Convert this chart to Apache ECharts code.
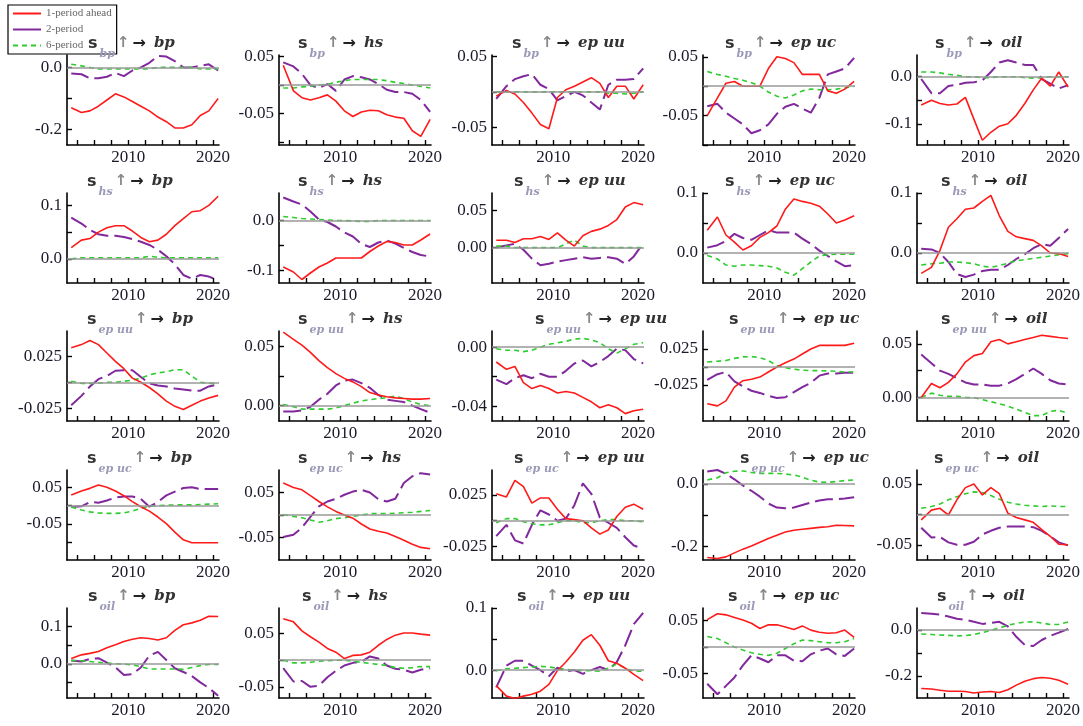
<!DOCTYPE html>
<html>
<head>
<meta charset="utf-8">
<script src="https://cdn.jsdelivr.net/npm/echarts@6/dist/echarts.min.js"></script>
<style>
html, body { margin: 0; background: #fff; }
#main { width: 1083px; height: 726px; }
</style>
</head>
<body>
<div id="main"></div>
<script>
// sample dates (roughly one per year)
var years = [2003.3, 2004.5, 2005.5, 2006.5, 2007.5, 2008.5, 2009.5, 2010.5, 2011.5,
             2012.5, 2013.5, 2014.5, 2015.5, 2016.5, 2017.5, 2018.5, 2019.5, 2020.6];
var xTicks = [2004, 2006, 2008, 2010, 2012, 2014, 2016, 2018, 2020];
var xLabels = [2010, 2020];

// shock (row) and response (column) names
var shocks = ['bp', 'hs', 'ep uu', 'ep uc', 'oil'];
var targets = ['bp', 'hs', 'ep uu', 'ep uc', 'oil'];

// 1-period ahead, one row per panel (row-major: shock, then response)
var red = [
  [-0.13, -0.145, -0.14, -0.125, -0.105, -0.085, -0.095, -0.11, -0.125, -0.14, -0.16, -0.175, -0.195, -0.195, -0.185, -0.155, -0.14, -0.1],
  [0.035, -0.01, -0.022, -0.026, -0.022, -0.017, -0.028, -0.045, -0.055, -0.047, -0.044, -0.045, -0.052, -0.056, -0.058, -0.08, -0.09, -0.06],
  [-0.006, 0.002, -0.003, -0.015, -0.03, -0.046, -0.052, -0.008, 0.003, 0.008, 0.014, 0.02, 0.012, -0.008, 0.008, 0.008, -0.01, 0.01],
  [-0.05, -0.02, 0.005, 0.008, 0.0, 0.0, 0.0, 0.03, 0.05, 0.047, 0.04, 0.02, 0.02, 0.02, -0.008, -0.012, -0.005, 0.008],
  [-0.06, -0.05, -0.057, -0.06, -0.058, -0.044, -0.09, -0.135, -0.118, -0.105, -0.1, -0.082, -0.057, -0.028, -0.003, -0.02, 0.01, -0.022],

  [0.021, 0.035, 0.038, 0.05, 0.058, 0.062, 0.062, 0.052, 0.04, 0.032, 0.035, 0.046, 0.062, 0.075, 0.088, 0.09, 0.1, 0.117],
  [-0.093, -0.103, -0.118, -0.105, -0.093, -0.085, -0.075, -0.075, -0.075, -0.075, -0.062, -0.051, -0.042, -0.044, -0.049, -0.049, -0.039, -0.027],
  [0.01, 0.01, 0.007, 0.012, 0.012, 0.015, 0.011, 0.02, 0.01, 0.002, 0.016, 0.022, 0.025, 0.03, 0.038, 0.055, 0.061, 0.058],
  [0.038, 0.06, 0.03, 0.018, 0.005, 0.012, 0.026, 0.034, 0.045, 0.073, 0.09, 0.086, 0.083, 0.078, 0.065, 0.05, 0.055, 0.062],
  [-0.034, -0.024, 0.004, 0.043, 0.057, 0.073, 0.075, 0.086, 0.096, 0.062, 0.036, 0.027, 0.024, 0.021, 0.012, 0.0, -0.001, -0.006],

  [0.033, 0.036, 0.04, 0.036, 0.028, 0.02, 0.013, 0.004, 0.0, -0.005, -0.011, -0.018, -0.023, -0.026, -0.022, -0.018, -0.015, -0.0125],
  [0.062, 0.056, 0.051, 0.045, 0.038, 0.032, 0.027, 0.023, 0.02, 0.016, 0.011, 0.009, 0.0075, 0.0065, 0.006, 0.0055, 0.0055, 0.006],
  [-0.01, -0.015, -0.013, -0.024, -0.028, -0.026, -0.028, -0.031, -0.03, -0.031, -0.034, -0.037, -0.041, -0.039, -0.041, -0.045, -0.043, -0.042],
  [-0.051, -0.054, -0.047, -0.028, -0.019, -0.017, -0.014, -0.007, 0.0, 0.006, 0.011, 0.018, 0.025, 0.03, 0.03, 0.03, 0.03, 0.033],
  [0.0, 0.013, 0.009, 0.014, 0.022, 0.033, 0.039, 0.041, 0.052, 0.054, 0.05, 0.052, 0.054, 0.056, 0.058, 0.057, 0.056, 0.055],

  [0.029, 0.04, 0.047, 0.056, 0.05, 0.04, 0.027, 0.011, -0.003, -0.015, -0.031, -0.049, -0.072, -0.093, -0.101, -0.101, -0.101, -0.101],
  [0.071, 0.061, 0.056, 0.043, 0.03, 0.018, 0.008, 0.0, -0.007, -0.02, -0.031, -0.036, -0.04, -0.048, -0.056, -0.065, -0.072, -0.075],
  [0.026, 0.023, 0.039, 0.033, 0.017, 0.022, 0.022, 0.011, 0.002, 0.001, 0.0, -0.007, -0.013, -0.009, 0.004, 0.013, 0.016, 0.011],
  [-0.237, -0.24, -0.235, -0.222, -0.21, -0.2, -0.188, -0.176, -0.165, -0.155, -0.149, -0.146, -0.143, -0.14, -0.138, -0.133, -0.134, -0.135],
  [-0.009, 0.007, 0.01, -0.001, 0.024, 0.044, 0.05, 0.032, 0.044, 0.034, 0.002, -0.005, -0.009, -0.013, -0.025, -0.036, -0.049, -0.05],

  [0.014, 0.024, 0.028, 0.033, 0.043, 0.051, 0.06, 0.066, 0.07, 0.068, 0.064, 0.07, 0.09, 0.105, 0.11, 0.117, 0.128, 0.127],
  [0.078, 0.072, 0.055, 0.044, 0.034, 0.022, 0.015, 0.003, 0.009, 0.01, 0.015, 0.028, 0.039, 0.047, 0.051, 0.051, 0.049, 0.047],
  [-0.025, -0.042, -0.046, -0.042, -0.039, -0.034, -0.023, -0.001, 0.013, 0.029, 0.048, 0.057, 0.04, 0.015, 0.011, 0.003, -0.007, -0.017],
  [0.052, 0.063, 0.061, 0.056, 0.051, 0.045, 0.035, 0.042, 0.042, 0.038, 0.033, 0.04, 0.032, 0.028, 0.026, 0.027, 0.032, 0.018],
  [-0.255, -0.257, -0.262, -0.267, -0.267, -0.268, -0.274, -0.27, -0.268, -0.272, -0.26, -0.24, -0.223, -0.212, -0.207, -0.21, -0.219, -0.236]
];

// 2-period
var purple = [
  [-0.02, -0.022, -0.035, -0.035, -0.03, -0.018, -0.028, -0.01, 0.0, 0.015, 0.037, 0.035, 0.02, 0.0, 0.0, 0.005, 0.01, -0.01],
  [0.04, 0.033, 0.02, 0.0, -0.005, 0.002, -0.01, 0.01, 0.016, 0.014, 0.01, 0.002, -0.008, -0.012, -0.012, -0.015, -0.026, -0.047],
  [-0.01, 0.008, 0.018, 0.022, 0.025, 0.01, 0.004, -0.012, -0.006, 0.0, -0.005, -0.015, -0.025, 0.01, 0.017, 0.017, 0.018, 0.033],
  [-0.034, -0.03, -0.045, -0.055, -0.065, -0.08, -0.075, -0.065, -0.047, -0.035, -0.03, -0.038, -0.045, -0.02, 0.02, 0.025, 0.03, 0.048],
  [-0.005, -0.035, -0.035, -0.02, -0.017, -0.013, -0.012, -0.008, 0.01, 0.03, 0.035, 0.03, 0.025, 0.025, -0.005, -0.015, -0.025, -0.018],

  [0.077, 0.066, 0.054, 0.046, 0.043, 0.043, 0.041, 0.037, 0.032, 0.026, 0.017, 0.005, -0.01, -0.03, -0.037, -0.03, -0.033, -0.04],
  [0.046, 0.038, 0.032, 0.018, 0.002, -0.003, -0.012, -0.024, -0.032, -0.047, -0.053, -0.044, -0.04, -0.046, -0.055, -0.063, -0.069, -0.072],
  [0.0, 0.003, 0.005, -0.003, -0.015, -0.024, -0.022, -0.019, -0.017, -0.015, -0.013, -0.015, -0.014, -0.013, -0.015, -0.022, -0.012, 0.006],
  [0.009, 0.013, 0.02, 0.032, 0.025, 0.022, 0.03, 0.038, 0.034, 0.034, 0.034, 0.024, 0.015, 0.004, -0.005, -0.014, -0.022, -0.02],
  [0.007, 0.006, 0.0, -0.015, -0.035, -0.04, -0.036, -0.03, -0.028, -0.028, -0.02, -0.01, -0.002, 0.008, 0.015, 0.012, 0.025, 0.04],

  [-0.022, -0.013, -0.004, 0.003, 0.006, 0.011, 0.0115, 0.0115, 0.005, -0.001, -0.003, -0.004, -0.006, -0.007, -0.008, -0.008, -0.004, -0.002],
  [-0.005, -0.005, -0.004, -0.001, 0.005, 0.01, 0.017, 0.021, 0.022, 0.019, 0.015, 0.009, 0.005, 0.004, 0.003, 0.0, -0.003, -0.006],
  [-0.022, -0.025, -0.021, -0.019, -0.021, -0.018, -0.02, -0.02, -0.016, -0.011, -0.009, -0.013, -0.01, -0.006, -0.001, -0.002, -0.008, -0.011],
  [-0.018, -0.01, -0.007, -0.02, -0.027, -0.033, -0.036, -0.04, -0.043, -0.042, -0.035, -0.028, -0.022, -0.012, -0.009, -0.009, -0.008, -0.008],
  [0.04, 0.032, 0.025, 0.022, 0.018, 0.014, 0.012, 0.012, 0.011, 0.011, 0.013, 0.017, 0.022, 0.027, 0.022, 0.016, 0.013, 0.012],

  [-0.004, -0.002, 0.01, 0.008, 0.014, 0.022, 0.025, 0.025, 0.018, -0.003, 0.01, 0.028, 0.038, 0.048, 0.05, 0.045, 0.045, 0.045],
  [-0.049, -0.044, -0.028, -0.004, 0.019, 0.03, 0.036, 0.045, 0.052, 0.056, 0.05, 0.035, 0.03, 0.036, 0.071, 0.086, 0.093, 0.09],
  [-0.015, -0.004, -0.019, -0.022, -0.004, 0.01, 0.006, 0.0, 0.002, 0.015, 0.036, 0.026, 0.003, -0.002, -0.007, -0.016, -0.024, -0.027],
  [0.04, 0.045, 0.033, 0.015, -0.005, -0.022, -0.041, -0.063, -0.076, -0.078, -0.076, -0.068, -0.06, -0.053, -0.049, -0.049, -0.047, -0.043],
  [-0.022, -0.038, -0.037, -0.046, -0.05, -0.05, -0.045, -0.033, -0.027, -0.022, -0.02, -0.02, -0.02, -0.021, -0.027, -0.036, -0.046, -0.051],

  [0.009, 0.006, 0.013, 0.015, 0.003, -0.009, -0.03, -0.028, -0.01, 0.022, 0.032, 0.01, -0.012, -0.022, -0.033, -0.05, -0.065, -0.086],
  [-0.015, -0.04, -0.039, -0.05, -0.048, -0.032, -0.02, -0.01, -0.005, -0.003, 0.007, 0.003, -0.01, -0.016, -0.018, -0.023, -0.018, -0.015],
  [-0.028, 0.007, 0.015, 0.015, 0.007, 0.0, -0.01, 0.004, -0.002, 0.0, -0.006, 0.0, 0.005, 0.0, 0.013, 0.04, 0.074, 0.092],
  [-0.07, -0.09, -0.074, -0.058, -0.035, -0.016, -0.022, -0.029, -0.016, -0.016, -0.026, -0.027, -0.014, -0.007, -0.003, -0.014, -0.017, -0.003],
  [0.073, 0.07, 0.066, 0.058, 0.048, 0.044, 0.035, 0.026, 0.03, 0.035, 0.015, -0.03, -0.066, -0.07, -0.044, -0.026, -0.012, 0.004]
];

// 6-period
var green = [
  [0.01, 0.005, 0.0, -0.005, -0.005, -0.005, -0.005, -0.005, -0.005, -0.005, 0, 0, 0, 0, 0, -0.005, -0.005, -0.005],
  [-0.005, -0.005, -0.003, -0.002, 0, 0.002, 0.005, 0.008, 0.01, 0.01, 0.01, 0.01, 0.008, 0.005, 0.003, 0, -0.002, -0.005],
  [0, 0, 0, 0, 0, 0, 0, 0, 0, 0, 0, 0, 0, -0.002, -0.002, -0.003, -0.002, 0],
  [0.025, 0.02, 0.017, 0.013, 0.01, 0.006, 0.0, -0.01, -0.017, -0.02, -0.015, -0.008, -0.005, -0.006, -0.006, -0.005, -0.003, 0],
  [0.01, 0.01, 0.008, 0.005, 0.003, 0.0, 0, -0.002, -0.002, 0, 0, 0, -0.002, -0.003, -0.002, 0, 0, 0],

  [0, 0.002, 0.002, 0.002, 0.002, 0.002, 0.002, 0.002, 0.002, 0.005, 0.003, 0.002, 0.002, 0.002, 0.002, 0.002, 0.002, 0.002],
  [0.008, 0.006, 0.004, 0.003, 0.002, 0.001, 0.0, 0.0, -0.001, -0.002, -0.002, 0, 0, 0, 0, 0, 0, 0],
  [0.002, 0.002, 0, 0, 0, 0, 0, 0, 0.005, 0.01, 0.002, 0, 0, 0, 0, 0, 0, 0],
  [-0.004, -0.01, -0.02, -0.022, -0.02, -0.02, -0.021, -0.022, -0.025, -0.032, -0.037, -0.026, -0.015, -0.005, -0.003, -0.002, -0.002, -0.002],
  [-0.02, -0.018, -0.017, -0.015, -0.015, -0.016, -0.018, -0.022, -0.024, -0.021, -0.017, -0.013, -0.011, -0.009, -0.007, -0.005, -0.003, -0.001],

  [0.001, -0.001, -0.001, -0.001, 0, 0, 0.001, 0.002, 0.004, 0.007, 0.009, 0.01, 0.012, 0.012, 0.006, 0.0, -0.001, -0.001],
  [0.001, -0.001, -0.003, -0.003, -0.003, -0.003, -0.002, 0.0, 0.002, 0.004, 0.005, 0.006, 0.0065, 0.008, 0.006, 0.003, 0.001, 0.0],
  [-0.001, -0.002, -0.002, -0.003, -0.002, 0.0, 0.002, 0.003, 0.004, 0.0055, 0.006, 0.005, 0.003, -0.001, -0.004, -0.001, 0.002, 0.003],
  [0.007, 0.008, 0.009, 0.012, 0.014, 0.0145, 0.013, 0.009, 0.002, -0.001, -0.003, -0.0045, -0.005, -0.005, -0.0055, -0.006, -0.007, -0.007],
  [0.0, 0.004, 0.002, 0.001, 0.001, 0.0, 0.0, -0.002, -0.004, -0.006, -0.008, -0.011, -0.014, -0.017, -0.017, -0.013, -0.012, -0.015],

  [-0.004, -0.012, -0.017, -0.02, -0.021, -0.021, -0.02, -0.015, -0.007, -0.002, 0.0, 0.001, 0.002, 0.002, 0.002, 0.003, 0.004, 0.005],
  [0.001, -0.003, -0.006, -0.011, -0.016, -0.013, -0.008, -0.006, -0.003, 0.0, 0.003, 0.003, 0.003, 0.004, 0.005, 0.006, 0.008, 0.01],
  [-0.002, 0.002, 0.002, -0.001, -0.003, -0.004, -0.004, -0.002, 0.0, 0.0, -0.002, -0.002, 0.0, 0.001, 0.001, 0.0, 0.0, -0.001],
  [0.013, 0.02, 0.036, 0.041, 0.042, 0.037, 0.034, 0.034, 0.034, 0.032, 0.029, 0.022, 0.012, 0.006, 0.005, 0.008, 0.011, 0.013],
  [0.01, 0.013, 0.017, 0.024, 0.029, 0.034, 0.037, 0.036, 0.031, 0.025, 0.02, 0.017, 0.015, 0.014, 0.013, 0.014, 0.013, 0.013],

  [0.009, 0.008, 0.006, 0.004, 0.002, 0.0, -0.001, -0.003, -0.008, -0.014, -0.014, -0.014, -0.014, -0.015, -0.01, -0.005, -0.002, -0.002],
  [0.0, -0.005, -0.005, -0.004, -0.002, -0.001, 0.0, 0.0, -0.002, -0.004, -0.006, -0.008, -0.01, -0.014, -0.015, -0.014, -0.012, -0.012],
  [-0.001, 0.002, 0.003, 0.004, 0.005, 0.006, 0.005, 0.003, 0.001, 0.0, -0.001, -0.001, -0.002, 0.003, 0.01, 0.003, -0.002, -0.002],
  [0.02, 0.016, 0.008, 0.0, -0.006, -0.011, -0.014, -0.016, -0.012, -0.003, 0.006, 0.013, 0.012, 0.01, 0.008, 0.008, 0.01, 0.016],
  [-0.018, -0.02, -0.022, -0.024, -0.026, -0.025, -0.02, -0.012, -0.002, 0.008, 0.02, 0.028, 0.034, 0.035, 0.03, 0.023, 0.024, 0.034]
];

// y axis extent, ticks and labelled ticks for each panel
var yMin = [-0.25, -0.105, -0.075, -0.1, -0.145, -0.045, -0.125, -0.048, -0.05, -0.05,
            -0.037, -0.013, -0.05, -0.075, -0.022, -0.148, -0.1, -0.038, -0.245, -0.075,
            -0.092, -0.071, -0.045, -0.097, -0.296];
var yMax = [0.04, 0.053, 0.052, 0.053, 0.046, 0.123, 0.055, 0.074, 0.1, 0.1,
            0.049, 0.063, 0.011, 0.05, 0.062, 0.097, 0.1, 0.049, 0.045, 0.073,
            0.15, 0.098, 0.1, 0.074, 0.095];
var yTicks = [
  [0, -0.1, -0.2], [0.05, 0, -0.05, -0.1], [0.05, 0, -0.05], [0.05, 0, -0.05, -0.1], [0, -0.05, -0.1],
  [0.1, 0.05, 0], [0, -0.05, -0.1], [0.05, 0], [0.1, 0.05, 0], [0.1, 0.05, 0],
  [0.025, 0, -0.025], [0.05, 0.025, 0], [0, -0.02, -0.04], [0.025, 0, -0.025], [0.05, 0.025, 0],
  [0.05, 0, -0.05, -0.1], [0.05, 0, -0.05], [0.025, 0, -0.025], [0, -0.1, -0.2], [0.05, 0, -0.05],
  [0.1, 0.05, 0, -0.05], [0.05, 0, -0.05], [0.1, 0.05, 0], [0.05, 0, -0.05], [0, -0.1, -0.2]
];
var yLabels = [
  [0, -0.2], [0.05, -0.05], [0.05, -0.05], [0.05, -0.05], [0, -0.1],
  [0.1, 0], [0, -0.1], [0.05, 0], [0.1, 0], [0.1, 0],
  [0.025, -0.025], [0.05, 0], [0, -0.04], [0.025, -0.025], [0.05, 0],
  [0.05, -0.05], [0.05, -0.05], [0.025, -0.025], [0, -0.2], [0.05, -0.05],
  [0.1, 0], [0.05, -0.05], [0.1, 0], [0.05, -0.05], [0, -0.2]
];
var yDec = [1, 2, 2, 2, 1, 1, 1, 2, 1, 1, 3, 2, 2, 3, 2, 2, 2, 3, 1, 2, 1, 2, 1, 2, 1];

var myChart = echarts.init(document.getElementById('main'));

var colLeft = [67, 279, 492, 703, 917];
var rowTop = [55, 193, 331, 470, 608];
var W = 152, H = 90;
var numFont = 'Liberation Serif';
// how far each panel title starts from its y axis
var titleShift = [21, 19, 20, 22, 18, 20, 19, 22, 22, 24, 20, 19, 43, 26, 24, 20, 19, 22, 37, 17, 21, 23, 25, 25, 20];

function pairs(arr) {
    return arr.map(function (v, k) { return [years[k], v]; });
}

var grids = [], xAxes = [], yAxes = [], series = [], titles = [];

for (var r = 0; r < 5; r++) {
    for (var c = 0; c < 5; c++) {
        var i = r * 5 + c;
        grids.push({ left: colLeft[c], top: rowTop[r], width: W, height: H });

        xAxes.push({
            type: 'value', gridIndex: i, min: 2002.8, max: 2020.7,
            axisLine: { onZero: false, lineStyle: { color: '#000', width: 1.6 } },
            axisTick: { inside: true, length: 5, customValues: xTicks, lineStyle: { color: '#000', width: 1.4 } },
            axisLabel: {
                customValues: xLabels, margin: 4,
                fontFamily: numFont, fontSize: 17, color: '#1a1a2a',
                formatter: function (v) { return String(Math.round(v)); }
            },
            splitLine: { show: false }
        });

        (function (dec) {
            yAxes.push({
                type: 'value', gridIndex: i, min: yMin[i], max: yMax[i],
                axisLine: { onZero: false, lineStyle: { color: '#000', width: 1.6 } },
                axisTick: { inside: true, length: 5, customValues: yTicks[i], lineStyle: { color: '#000', width: 1.4 } },
                axisLabel: {
                    customValues: yLabels[i], margin: 5,
                    fontFamily: numFont, fontSize: 17, color: '#1a1a2a',
                    formatter: function (v) { return v.toFixed(dec); }
                },
                splitLine: { show: false }
            });
        })(yDec[i]);

        titles.push({
            text: '{s|s}{sub|' + shocks[r] + '}{ar|↑}{r|→}{t|' + targets[c] + '}',
            left: colLeft[c] + titleShift[i], top: rowTop[r] - 19,
            textAlign: 'left', padding: 0, z: 8,
            textStyle: {
                rich: {
                    s: { fontFamily: 'DejaVu Sans', fontSize: 16, color: '#333', lineHeight: 18, verticalAlign: 'top' },
                    sub: { fontFamily: 'DejaVu Serif', fontStyle: 'italic', fontSize: 11, color: '#9a9ab8', lineHeight: 36, padding: [0, 2, 0, 2] },
                    ar: { fontFamily: 'DejaVu Sans', fontSize: 15, color: '#888', lineHeight: 18, verticalAlign: 'top' },
                    r: { fontFamily: 'DejaVu Sans', fontSize: 16, color: '#222', lineHeight: 18, verticalAlign: 'top', padding: [0, 8, 0, 3] },
                    t: { fontFamily: 'DejaVu Serif', fontStyle: 'italic', fontWeight: 'bold', fontSize: 15, color: '#333', lineHeight: 18, verticalAlign: 'top' }
                }
            }
        });

        series.push({
            name: '1-period ahead', type: 'line', xAxisIndex: i, yAxisIndex: i,
            data: pairs(red[i]), symbol: 'none', z: 4,
            lineStyle: { color: '#ff1a1a', width: 1.6 },
            itemStyle: { color: '#ff1a1a' },
            markLine: {
                silent: true, symbol: ['none', 'none'], label: { show: false },
                lineStyle: { color: '#999', width: 1.5, type: 'solid' },
                data: [{ yAxis: 0 }]
            }
        });
        series.push({
            name: '2-period', type: 'line', xAxisIndex: i, yAxisIndex: i,
            data: pairs(purple[i]), symbol: 'none', z: 3,
            lineStyle: { color: '#80289c', width: 2, type: [18, 6] },
            itemStyle: { color: '#80289c' }
        });
        series.push({
            name: '6-period', type: 'line', xAxisIndex: i, yAxisIndex: i,
            data: pairs(green[i]), symbol: 'none', z: 3,
            lineStyle: { color: '#2ecc2e', width: 1.6, type: [5, 4] },
            itemStyle: { color: '#2ecc2e' }
        });
    }
}

myChart.setOption({
    animation: false,
    backgroundColor: '#fff',
    title: titles,
    legend: {
        left: 8, top: 5, orient: 'vertical', z: 1,
        backgroundColor: '#fff', borderColor: '#000', borderWidth: 1.2, borderRadius: 0,
        padding: [3, 5, 3, 4], itemGap: 5, itemWidth: 28, itemHeight: 10,
        itemStyle: { opacity: 0 },
        textStyle: { fontFamily: 'Liberation Serif', fontSize: 11, color: '#666' },
        data: [
            { name: '1-period ahead' },
            { name: '2-period', lineStyle: { type: 'solid' } },
            { name: '6-period' }
        ]
    },
    grid: grids,
    xAxis: xAxes,
    yAxis: yAxes,
    series: series
});
</script>
</body>
</html>
